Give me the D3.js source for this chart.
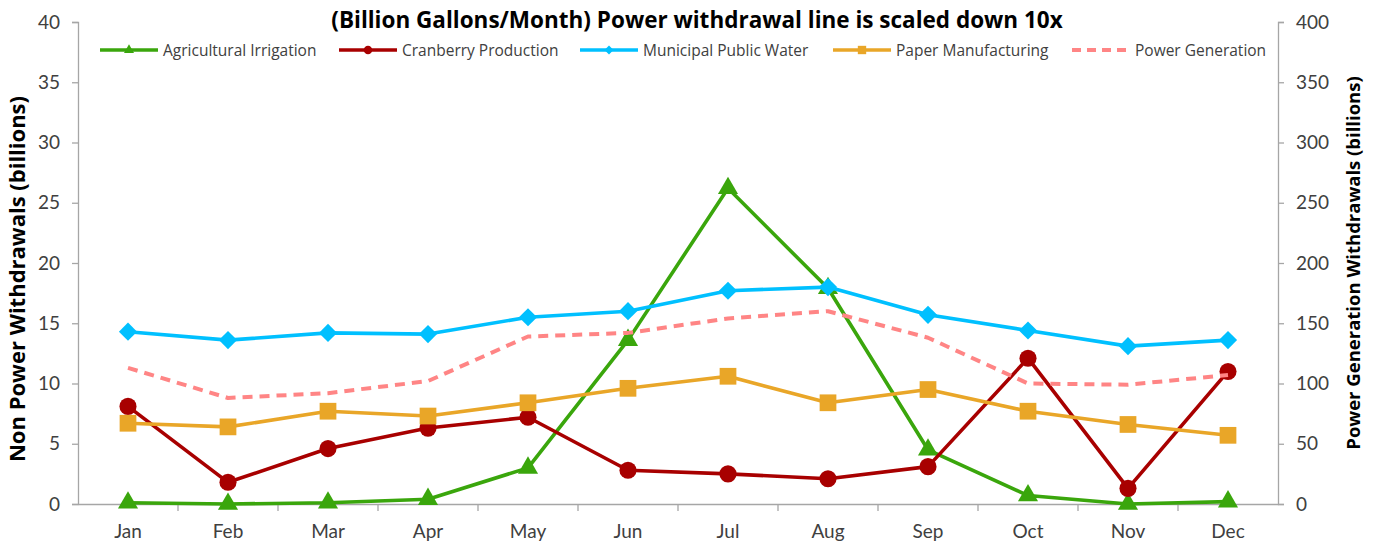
<!DOCTYPE html>
<html><head><meta charset="utf-8">
<script src="https://cdn.jsdelivr.net/npm/d3@7"></script>
<style>
body{margin:0;background:#fff;}
svg{display:block;font-family:"Open Sans",Lato,sans-serif;}
</style></head>
<body><svg id="c" width="1375" height="543"></svg>
<script>
const months = ["Jan","Feb","Mar","Apr","May","Jun","Jul","Aug","Sep","Oct","Nov","Dec"];
const agricultural = [0.1,0.0,0.1,0.4,3.0,13.6,26.2,17.9,4.5,0.7,0.0,0.2];
const cranberry = [8.1,1.8,4.6,6.3,7.2,2.8,2.5,2.1,3.1,12.1,1.3,11.0];
const municipal = [14.3,13.6,14.2,14.1,15.5,16.0,17.7,18.0,15.7,14.4,13.1,13.6];
const paper = [6.7,6.4,7.7,7.3,8.4,9.6,10.6,8.4,9.5,7.7,6.6,5.7];
const power = [113,88,92,102,139,142,154,160,138,100,99,107];
const leftTicks = [0,5,10,15,20,25,30,35,40];
const rightTicks = [0,50,100,150,200,250,300,350,400];
const title = "(Billion Gallons/Month) Power withdrawal line is scaled down 10x";
const leftTitle = "Non Power Withdrawals (billions)";
const rightTitle = "Power Generation Withdrawals (billions)";

const series = [
  {name:"Agricultural Irrigation", values:agricultural, color:"#3aa60c", marker:"triangle", axis:"left"},
  {name:"Cranberry Production", values:cranberry, color:"#a80000", marker:"circle", axis:"left"},
  {name:"Municipal Public Water", values:municipal, color:"#00c0ff", marker:"diamond", axis:"left"},
  {name:"Paper Manufacturing", values:paper, color:"#e9a628", marker:"square", axis:"left"},
  {name:"Power Generation", values:power, color:"#ff8585", marker:null, axis:"right", dash:"10,7"}
];

const svg = d3.select("#c");
const L = 78, R = 1278, T = 22, B = 504;
const x = d3.scaleBand().domain(months).range([L,R]);
const yL = d3.scaleLinear().domain([0,40]).range([B,T]);
const yR = d3.scaleLinear().domain([0,400]).range([B,T]);
const axisColor = "#a6a6a6";
const textColor = "#404040";

const gL = svg.append("g").attr("transform",`translate(${L},0)`)
  .call(d3.axisLeft(yL).tickValues(leftTicks).tickSize(6).tickPadding(12));
const gR = svg.append("g").attr("transform",`translate(${R},0)`)
  .call(d3.axisRight(yR).tickValues(rightTicks).tickSize(6).tickPadding(12));
const gX = svg.append("g").attr("transform",`translate(0,${B})`)
  .call(d3.axisBottom(x).tickSize(0).tickPadding(21));
svg.append("g").selectAll("line").data(months.slice(1)).join("line")
  .attr("x1",d=>x(d)).attr("x2",d=>x(d)).attr("y1",B).attr("y2",B+7)
  .attr("stroke",axisColor).attr("stroke-width",1.3);

[gL,gR,gX].forEach(g=>{
  g.select(".domain").attr("stroke",axisColor).attr("stroke-width",1.3);
  g.selectAll(".tick line").attr("stroke",axisColor).attr("stroke-width",1.3);
  g.selectAll(".tick text").attr("fill",textColor).style("font-size","19px").style("font-family","Lato,'Open Sans',sans-serif");
});
gX.selectAll(".tick text").attr("dy","0.71em");

svg.append("text").attr("x",697).attr("y",28).attr("text-anchor","middle")
  .style("font-size","22.5px").style("font-weight","bold").attr("fill","#000").text(title);
svg.append("text").attr("transform",`translate(25,279) rotate(-90)`).attr("text-anchor","middle")
  .style("font-size","22px").style("font-weight","bold").attr("fill","#000").text(leftTitle);
svg.append("text").attr("transform",`translate(1360,263) rotate(-90)`).attr("text-anchor","middle")
  .style("font-size","18.5px").style("font-weight","bold").attr("fill","#000").text(rightTitle);

function markerPath(type){
  const sym = {triangle:d3.symbolTriangle, circle:d3.symbolCircle, diamond:d3.symbolSquare, square:d3.symbolSquare}[type];
  const size = {triangle:175, circle:230, diamond:165, square:280}[type];
  return d3.symbol().type(sym).size(size)();
}
const markerRot = t => t==="diamond" ? " rotate(45)" : "";

const cx = d => x(d) + x.bandwidth()/2;
series.forEach(s=>{
  const y = s.axis==="left" ? yL : yR;
  const line = d3.line().x((v,i)=>cx(months[i])).y(v=>y(v));
  svg.append("path").datum(s.values).attr("d",line).attr("fill","none")
    .attr("stroke",s.color).attr("stroke-width",s.dash?4:3.6)
    .attr("stroke-dasharray",s.dash||null).attr("stroke-linejoin","round");
  if(s.marker){
    svg.append("g").selectAll("path").data(s.values).join("path")
      .attr("transform",(v,i)=>`translate(${cx(months[i])},${y(v)})${markerRot(s.marker)}`)
      .attr("d",markerPath(s.marker)).attr("fill",s.color);
  }
});

const legendX = [100,339,580,833,1072];
const legY = 50;
series.forEach((s,i)=>{
  const g = svg.append("g").attr("transform",`translate(${legendX[i]},${legY})`);
  g.append("line").attr("x1",0).attr("x2",58).attr("y1",0).attr("y2",0)
    .attr("stroke",s.color).attr("stroke-width",s.dash?4:3.6).attr("stroke-dasharray",s.dash?"9,6":null);
  if(s.marker){
    g.append("path").attr("transform",`translate(29,0) scale(0.5)${markerRot(s.marker)}`).attr("d",markerPath(s.marker)).attr("fill",s.color);
  }
  g.append("text").attr("x",63).attr("y",5.5).style("font-size","15.5px").attr("fill",textColor).text(s.name);
});
</script></body></html>
